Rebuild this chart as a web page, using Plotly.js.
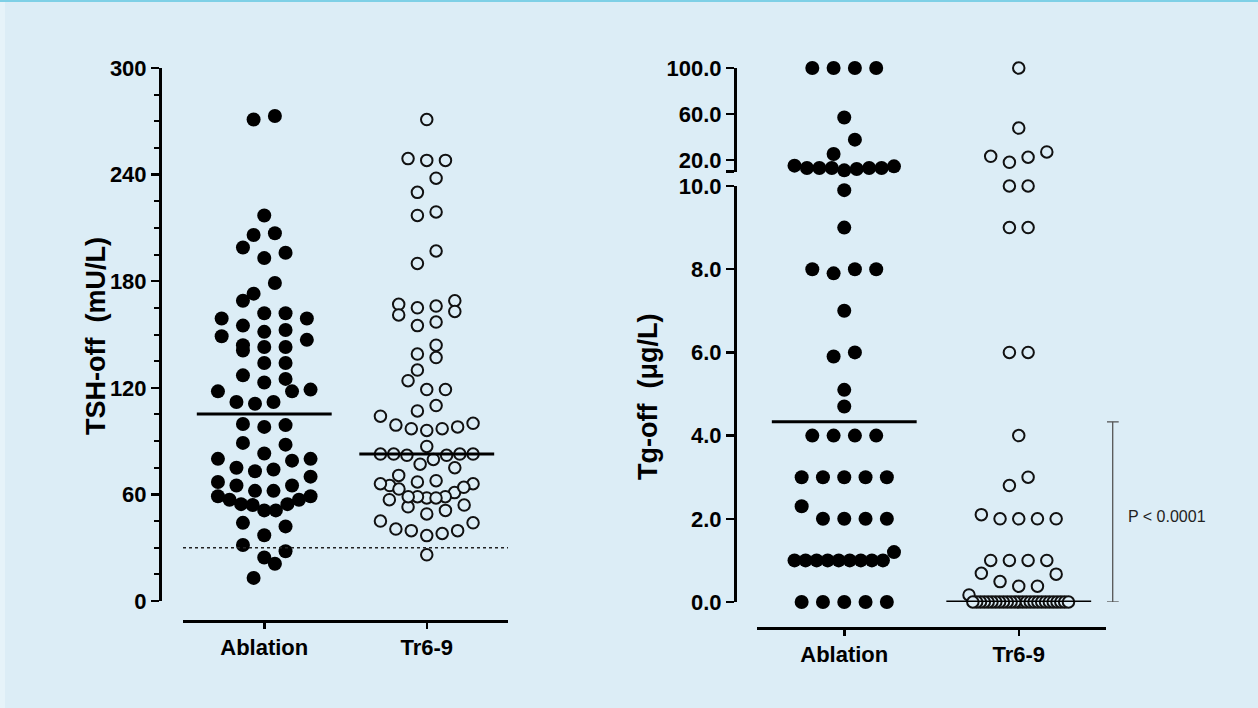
<!DOCTYPE html>
<html>
<head>
<meta charset="utf-8">
<script src="https://cdn.plot.ly/plotly-3.0.1.min.js"></script>
<style>
html,body{margin:0;padding:0;background:#dcedf6;}
#chart{width:1258px;height:708px;}
</style>
</head>
<body>
<div id="chart"></div>
<script>
// ---------------- data ----------------
const groups = ['Ablation', 'Tr6-9'];

const tshAblation = [271, 273, 217, 207, 206, 199, 193, 196, 179, 173, 169, 162, 159, 159, 162,
  152.5, 155, 151.5, 149, 144, 143, 141, 143, 147, 134, 134, 127, 123, 125, 119, 118, 118,
  112, 111, 112, 99.6, 98, 99, 89, 88, 83, 80, 79, 80, 75, 73, 74, 70, 67, 65, 62, 59, 57,
  54.5, 54, 54.5, 57, 59, 62, 65, 51, 51, 42, 44, 37, 31.5, 28, 21, 24.5, 13];

const tshTr69 = [271, 248, 248, 249, 238, 230, 219, 217, 197, 190, 165, 167, 161, 166, 169, 163,
  155, 157, 144, 139, 137, 130, 124, 119, 119, 110, 107, 104, 97, 100, 96, 98, 99, 97, 87,
  82.7, 82.7, 82, 79.7, 75, 77, 82, 82.7, 82.7, 67.7, 66, 65, 63, 61, 64, 66, 67, 70.7,
  58, 57, 53, 58.7, 49, 51, 58.7, 54, 58, 58.7, 44, 39.6, 38, 36.8, 39.6, 40.5, 45, 26];

const tgAblation = [100, 100, 100, 100, 57, 37.7, 25.2, 13, 13, 12.2, 15.1, 11, 13, 14.5, 13, 13,
  9.9, 9, 8, 7.9, 8, 8, 7, 5.9, 6, 5.1, 4.7, 4, 4, 4, 4, 3, 3, 3, 3, 3, 2.3, 2, 2, 2, 2,
  1, 1, 1, 1, 1, 1, 1, 1, 1, 1.2, 0, 0, 0, 0, 0];

const tgTr69 = [100, 47.8, 27, 22.4, 18, 23.2, 10, 10, 9, 9, 6, 6, 4, 2.8, 3, 2, 2, 2, 2, 2.1,
  1, 1, 1, 1, 0.67, 0.69, 0.49, 0.38, 0.38, 0.17,
  0, 0, 0, 0, 0, 0, 0, 0, 0, 0, 0, 0, 0, 0, 0, 0, 0, 0, 0, 0, 0, 0, 0, 0, 0, 0];

const tshLine = [105.2, 82.7];   // horizontal summary lines
const tgLine = [4.33, 0.0];
const tshThreshold = 30;
const pText = 'P < 0.0001';

const tshTicks = [0, 60, 120, 180, 240, 300];
const tgLowTicks = [0, 2, 4, 6, 8, 10];
const tgUpTicks = [10, 20, 60, 100];
const tgUpText = ['', '20.0', '60.0', '100.0'];

// ---------------- geometry ----------------
const FW = 1258, FH = 708;
const BG = '#dcedf6';
const FONT = 'Liberation Sans, Arial, Helvetica, sans-serif';
const fx = p => p / FW;           // pixel -> paper x
const fy = p => 1 - p / FH;       // pixel -> paper y

const L = {x0: 183, x1: 508, xAxisY: 621, yAxisX: 160, yTop: 68, yBot: 601, yMax: 300};
const R = {x0: 757, x1: 1106, xAxisY: 628, yAxisX: 735,
           lowTop: 186, lowBot: 602, lowMax: 10, upTop: 68, upBot: 171.5, upMin: 10, upMax: 100};

const pxPerUnitL = (L.x1 - L.x0) / 2;
const pxPerUnitR = (R.x1 - R.x0) / 2;
const toPxL = v => L.yBot - v * (L.yBot - L.yTop) / L.yMax;
const toPxR = v => v <= R.lowMax
  ? R.lowBot - v * (R.lowBot - R.lowTop) / R.lowMax
  : R.upBot - (v - R.upMin) * (R.upBot - R.upTop) / (R.upMax - R.upMin);

// Prism-like row layout of a scatter dot plot
function swarm(vals, toPx, S, Wpx, H) {
  const idx = vals.map((v, i) => i).sort((a, b) => vals[a] - vals[b]);
  const off = new Array(vals.length).fill(0);
  let row = [], start = null;
  const flush = () => {
    const n = row.length;
    if (!n) return;
    const s = n > 1 ? Math.min(S, 2 * Wpx / (n - 1)) : 0;
    row.forEach((i, k) => {
      let slot;
      if (n % 2) slot = k === 0 ? 0 : (k % 2 ? (k + 1) / 2 : -k / 2);
      else { const m = Math.floor(k / 2) + 0.5; slot = k % 2 ? m : -m; }
      off[i] = slot * s;
    });
    row = [];
  };
  idx.forEach(i => {
    const p = toPx(vals[i]);
    if (row.length && start - p > H) flush();
    if (!row.length) start = p;
    row.push(i);
  });
  flush();
  return off;
}

const HALF = 0.285;      // max half width of a group, in category units
const ROWH = 15;         // row height in px
const SF = 21.3, SO = 18.7;

function xs(vals, center, toPx, ppu, S) {
  const off = swarm(vals, toPx, S, HALF * ppu, ROWH);
  return off.map(o => center + o / ppu);
}

const filled = {color: '#000', size: 14};
const openM = {color: BG, size: 11.5, line: {color: '#111', width: 2}};

function split(vals, xsArr, upper) {
  const X = [], Y = [];
  vals.forEach((v, i) => {
    if ((v > R.lowMax) === upper) { X.push(xsArr[i]); Y.push(v); }
  });
  return {X, Y};
}

const xTA = xs(tshAblation, 1, toPxL, pxPerUnitL, SF);
const xTT = xs(tshTr69, 2, toPxL, pxPerUnitL, SO);
const xGA = xs(tgAblation, 1, toPxR, pxPerUnitR, SF);
const xGT = xs(tgTr69, 2, toPxR, pxPerUnitR, SO);

const gaLo = split(tgAblation, xGA, false), gaUp = split(tgAblation, xGA, true);
const gtLo = split(tgTr69, xGT, false), gtUp = split(tgTr69, xGT, true);

const base = {type: 'scatter', mode: 'markers', cliponaxis: false, hoverinfo: 'skip', showlegend: false};
const traces = [
  Object.assign({}, base, {x: xTA, y: tshAblation, xaxis: 'x', yaxis: 'y', marker: filled}),
  Object.assign({}, base, {x: xTT, y: tshTr69, xaxis: 'x', yaxis: 'y', marker: openM}),
  Object.assign({}, base, {x: gaLo.X, y: gaLo.Y, xaxis: 'x2', yaxis: 'y2', marker: filled}),
  Object.assign({}, base, {x: gaUp.X, y: gaUp.Y, xaxis: 'x2', yaxis: 'y3', marker: filled}),
  Object.assign({}, base, {x: gtLo.X, y: gtLo.Y, xaxis: 'x2', yaxis: 'y2', marker: openM}),
  Object.assign({}, base, {x: gtUp.X, y: gtUp.Y, xaxis: 'x2', yaxis: 'y3', marker: openM})
];

const tickFont = {family: FONT, size: 22, color: '#000', weight: 'bold'};
const axisCommon = {showline: true, linecolor: '#000', linewidth: 2.5, ticks: 'outside',
  tickcolor: '#000', tickwidth: 2.5, showgrid: false, zeroline: false, fixedrange: true,
  tickfont: tickFont};

const LINEHALF = 0.415;
const shapes = [];
tshLine.forEach((v, g) => shapes.push({type: 'line', xref: 'x', yref: 'y',
  x0: g + 1 - LINEHALF, x1: g + 1 + LINEHALF, y0: v, y1: v, line: {color: '#000', width: 3}}));
tgLine.forEach((v, g) => shapes.push({type: 'line', xref: 'x2', yref: 'y2',
  x0: g + 1 - LINEHALF, x1: g + 1 + LINEHALF, y0: v, y1: v, line: {color: '#000', width: 3}}));
shapes.push({type: 'line', xref: 'x', yref: 'y', x0: 0.5, x1: 2.5, y0: tshThreshold, y1: tshThreshold,
  line: {color: '#222', width: 1.5, dash: 'dot'}});
// significance bracket
const bx = fx(1112.7), bc0 = fx(1107), bc1 = fx(1118.7);
shapes.push({type: 'line', xref: 'paper', yref: 'y2', x0: bx, x1: bx, y0: tgLine[1], y1: tgLine[0],
  line: {color: '#555', width: 1.3}});
tgLine.forEach(v => shapes.push({type: 'line', xref: 'paper', yref: 'y2', x0: bc0, x1: bc1, y0: v, y1: v,
  line: {color: '#555', width: 1.3}}));
// frame decorations
shapes.push({type: 'rect', xref: 'paper', yref: 'paper', x0: 0, x1: 1, y0: fy(2), y1: 1,
  fillcolor: '#7ed0e6', line: {width: 0}, layer: 'below'});
shapes.push({type: 'rect', xref: 'paper', yref: 'paper', x0: 0, x1: fx(5), y0: 0, y1: fy(2),
  fillcolor: '#e6f3f9', line: {width: 0}, layer: 'below'});

const titleFont = {family: FONT, size: 27, color: '#000', weight: 'bold'};
const annotations = [
  {text: 'TSH-off  (mU/L)', xref: 'paper', yref: 'paper', x: fx(96), y: fy(336), textangle: -90,
   xanchor: 'center', yanchor: 'middle', showarrow: false, font: titleFont},
  {text: 'Tg-off  (μg/L)', xref: 'paper', yref: 'paper', x: fx(648), y: fy(397), textangle: -90,
   xanchor: 'center', yanchor: 'middle', showarrow: false, font: titleFont},
  {text: pText, xref: 'paper', yref: 'y2', x: fx(1126), xanchor: 'left',
   y: (tgLine[0] + tgLine[1]) / 2, yshift: -5, showarrow: false,
   font: {family: FONT, size: 16, color: '#222'}}
];

const layout = {
  width: FW, height: FH,
  margin: {l: 0, r: 0, t: 0, b: 0},
  paper_bgcolor: BG, plot_bgcolor: 'rgba(0,0,0,0)',
  showlegend: false,
  xaxis: Object.assign({}, axisCommon, {domain: [fx(L.x0), fx(L.x1)], range: [0.5, 2.5],
    anchor: 'free', position: fy(L.xAxisY), tickmode: 'array', tickvals: [1, 2], ticktext: groups,
    ticklen: 6}),
  yaxis: Object.assign({}, axisCommon, {domain: [fy(L.yBot), fy(L.yTop)], range: [0, L.yMax],
    anchor: 'free', position: fx(L.yAxisX), tickmode: 'array', tickvals: tshTicks, ticklen: 8,
    minor: {dtick: 15, ticks: 'outside', ticklen: 5, tickwidth: 2, tickcolor: '#000', showgrid: false}}),
  xaxis2: Object.assign({}, axisCommon, {domain: [fx(R.x0), fx(R.x1)], range: [0.5, 2.5],
    anchor: 'free', position: fy(R.xAxisY), tickmode: 'array', tickvals: [1, 2], ticktext: groups,
    ticklen: 6}),
  yaxis2: Object.assign({}, axisCommon, {domain: [fy(R.lowBot), fy(R.lowTop)], range: [0, R.lowMax],
    anchor: 'free', position: fx(R.yAxisX), tickmode: 'array', tickvals: tgLowTicks,
    ticktext: tgLowTicks.map(v => v.toFixed(1)), ticklen: 8}),
  yaxis3: Object.assign({}, axisCommon, {domain: [fy(R.upBot), fy(R.upTop)], range: [R.upMin, R.upMax],
    anchor: 'free', position: fx(R.yAxisX), tickmode: 'array', tickvals: tgUpTicks,
    ticktext: tgUpText, ticklen: 8}),
  shapes: shapes,
  annotations: annotations
};

Plotly.newPlot('chart', traces, layout, {displayModeBar: false, staticPlot: true});
</script>
</body>
</html>
